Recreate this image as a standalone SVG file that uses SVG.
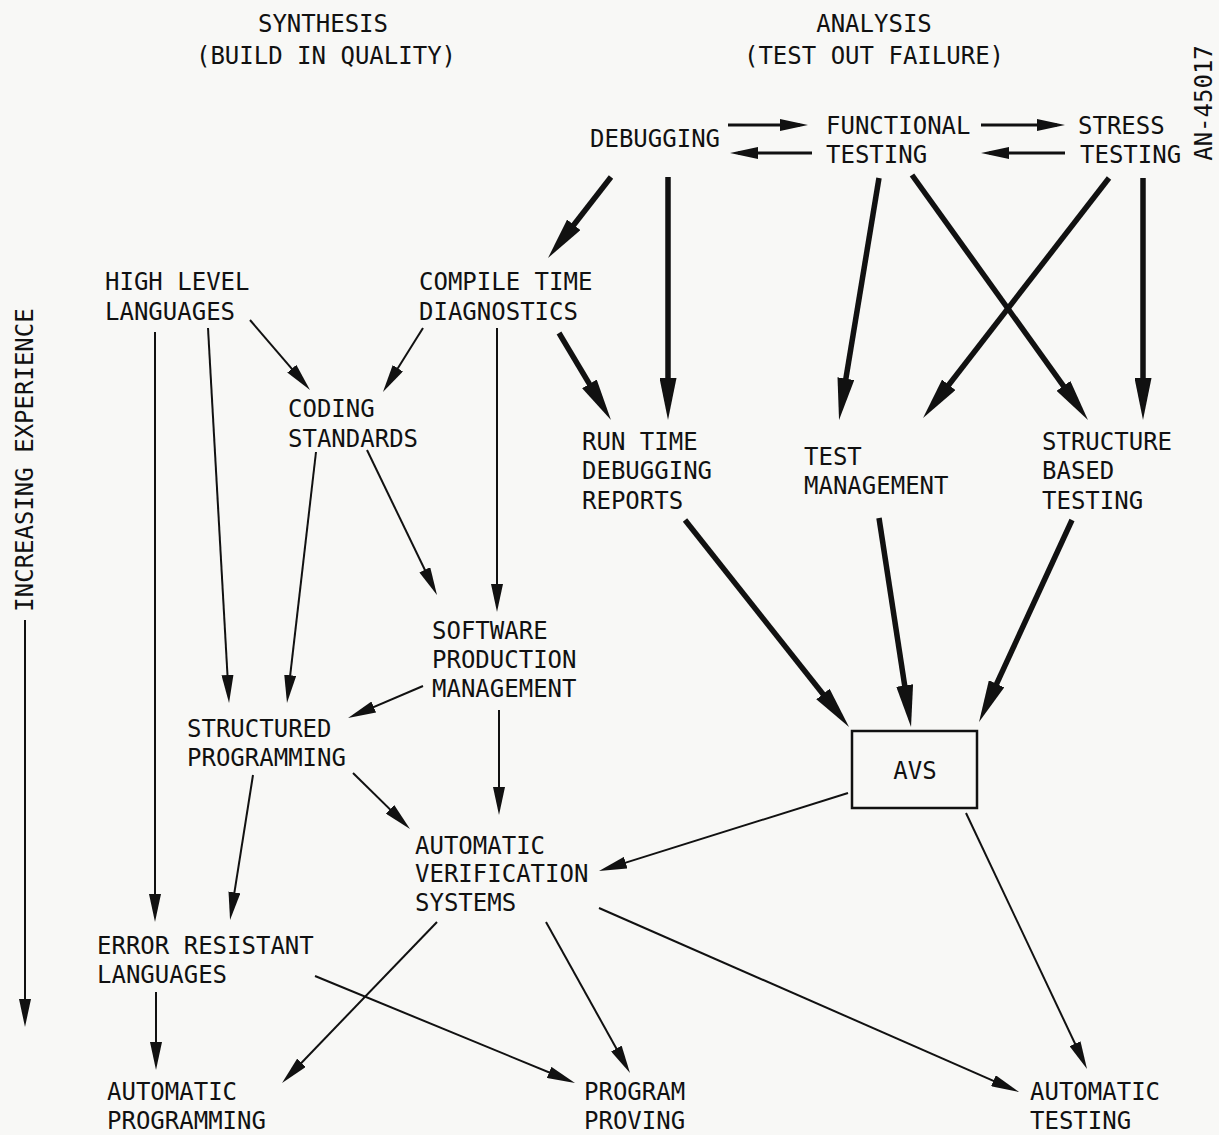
<svg xmlns="http://www.w3.org/2000/svg" width="1219" height="1135" viewBox="0 0 1219 1135">
<style>
text{font-family:"DejaVu Sans Mono","Liberation Mono",monospace;font-size:24px;fill:#111}
.thin{stroke:#111;stroke-width:2;fill:none;marker-end:url(#ah)}
.mid{stroke:#111;stroke-width:3;fill:none;marker-end:url(#ah)}
.thick{stroke:#111;stroke-width:5.5;fill:none;marker-end:url(#ahk)}
</style>
<defs>
<marker id="ah" markerUnits="userSpaceOnUse" viewBox="0 0 28 12" markerWidth="28" markerHeight="12" refX="20" refY="6" orient="auto">
<path d="M0,0 L28,6 L0,12 Z" fill="#111"/>
</marker>
<marker id="ahk" markerUnits="userSpaceOnUse" viewBox="0 0 42 17" markerWidth="42" markerHeight="17" refX="22" refY="8.5" orient="auto">
<path d="M0,0 L42,8.5 L0,17 Z" fill="#111"/>
</marker>
</defs>
<rect width="1219" height="1135" fill="#f8f8f6"/>

<g id="headings">
<text x="323" y="32" text-anchor="middle">SYNTHESIS</text>
<text x="326" y="64" text-anchor="middle">(BUILD IN QUALITY)</text>
<text x="874" y="32" text-anchor="middle">ANALYSIS</text>
<text x="874" y="64" text-anchor="middle">(TEST OUT FAILURE)</text>
<text transform="translate(1212,103) rotate(-90)" text-anchor="middle">AN-45017</text>
<text transform="translate(33,460) rotate(-90)" text-anchor="middle">INCREASING EXPERIENCE</text>
</g>

<g id="connectors">
<!-- top horizontal -->
<line class="mid" x1="728" y1="125" x2="800" y2="125"/>
<line class="mid" x1="812" y1="153" x2="738" y2="153"/>
<line class="mid" x1="981" y1="125" x2="1057" y2="125"/>
<line class="mid" x1="1065" y1="153" x2="989" y2="153"/>
<!-- thick analysis arrows -->
<line class="thick" x1="611" y1="177" x2="560.3" y2="242.2"/>
<line class="thick" x1="668" y1="177" x2="668" y2="400"/>
<line class="thick" x1="879" y1="178" x2="842.3" y2="400.3"/>
<line class="thick" x1="912" y1="175" x2="1076.3" y2="403.8"/>
<line class="thick" x1="1109" y1="178" x2="935.3" y2="402.2"/>
<line class="thick" x1="1143" y1="178" x2="1143" y2="400"/>
<line class="thick" x1="559" y1="333" x2="600.7" y2="402.8"/>
<line class="thick" x1="685" y1="520" x2="836.6" y2="711.3"/>
<line class="thick" x1="879" y1="518" x2="908" y2="707.2"/>
<line class="thick" x1="1072" y1="520" x2="987.4" y2="703.8"/>
<!-- thin synthesis arrows -->
<line class="thin" x1="250" y1="320" x2="304.8" y2="383.9"/>
<line class="thin" x1="423" y1="328" x2="387.2" y2="385.2"/>
<line class="thin" x1="155" y1="332" x2="155" y2="914"/>
<line class="thin" x1="208" y1="328" x2="228.6" y2="695"/>
<line class="thin" x1="316" y1="452" x2="287.9" y2="695.1"/>
<line class="thin" x1="367" y1="450" x2="433.5" y2="587.8"/>
<line class="thin" x1="497" y1="328" x2="497" y2="604"/>
<line class="thin" x1="423" y1="686" x2="355.4" y2="714.9"/>
<line class="thin" x1="353" y1="773" x2="404.3" y2="823.4"/>
<line class="thin" x1="499" y1="710" x2="499" y2="807"/>
<line class="thin" x1="253" y1="775" x2="231.3" y2="912.1"/>
<line class="thin" x1="848" y1="793" x2="606.6" y2="868.6"/>
<line class="thin" x1="156" y1="992" x2="156" y2="1062"/>
<line class="thin" x1="437" y1="922" x2="287.6" y2="1077.2"/>
<line class="thin" x1="315" y1="976" x2="567.6" y2="1080"/>
<line class="thin" x1="546" y1="922" x2="626.1" y2="1066"/>
<line class="thin" x1="599" y1="908" x2="1011.7" y2="1088.8"/>
<line class="thin" x1="966" y1="813" x2="1083.6" y2="1061.8"/>
<line class="thin" x1="25" y1="620" x2="25" y2="1019"/>
</g>

<g id="debugging"><text x="590" y="147">DEBUGGING</text></g>
<g id="functional-testing"><text x="826" y="134">FUNCTIONAL</text><text x="826" y="163">TESTING</text></g>
<g id="stress-testing"><text x="1078" y="134">STRESS</text><text x="1080" y="163">TESTING</text></g>
<g id="high-level-languages"><text x="105" y="290">HIGH LEVEL</text><text x="105" y="320">LANGUAGES</text></g>
<g id="compile-time-diagnostics"><text x="419" y="290">COMPILE TIME</text><text x="419" y="320">DIAGNOSTICS</text></g>
<g id="coding-standards"><text x="288" y="417">CODING</text><text x="288" y="447">STANDARDS</text></g>
<g id="run-time-debugging-reports"><text x="582" y="450">RUN TIME</text><text x="582" y="479">DEBUGGING</text><text x="582" y="509">REPORTS</text></g>
<g id="test-management"><text x="804" y="465">TEST</text><text x="804" y="494">MANAGEMENT</text></g>
<g id="structure-based-testing"><text x="1042" y="450">STRUCTURE</text><text x="1042" y="479">BASED</text><text x="1042" y="509">TESTING</text></g>
<g id="software-production-management"><text x="432" y="639">SOFTWARE</text><text x="432" y="668">PRODUCTION</text><text x="432" y="697">MANAGEMENT</text></g>
<g id="structured-programming"><text x="187" y="737">STRUCTURED</text><text x="187" y="766">PROGRAMMING</text></g>
<g id="avs"><rect x="852" y="731" width="125" height="77" fill="none" stroke="#111" stroke-width="2.5"/><text x="915" y="779" text-anchor="middle">AVS</text></g>
<g id="automatic-verification-systems"><text x="415" y="854">AUTOMATIC</text><text x="415" y="882">VERIFICATION</text><text x="415" y="911">SYSTEMS</text></g>
<g id="error-resistant-languages"><text x="97" y="954">ERROR RESISTANT</text><text x="97" y="983">LANGUAGES</text></g>
<g id="automatic-programming"><text x="107" y="1100">AUTOMATIC</text><text x="107" y="1129">PROGRAMMING</text></g>
<g id="program-proving"><text x="584" y="1100">PROGRAM</text><text x="584" y="1129">PROVING</text></g>
<g id="automatic-testing"><text x="1030" y="1100">AUTOMATIC</text><text x="1030" y="1129">TESTING</text></g>
</svg>
